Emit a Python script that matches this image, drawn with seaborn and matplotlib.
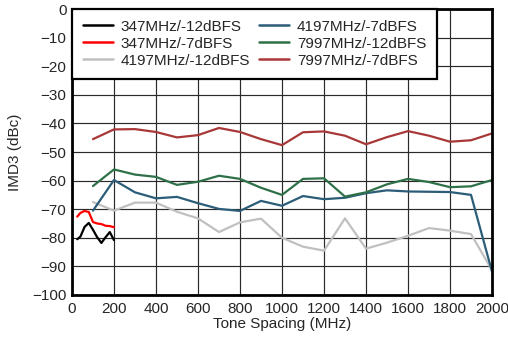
import numpy as np
import pandas as pd
import matplotlib
matplotlib.use("Agg")
import matplotlib.pyplot as plt
import seaborn as sns

# ---- data ----
x_low = [25, 40, 60, 80, 100, 120, 140, 160, 180, 200]
s347_12 = [-80.5, -79.6, -76.2, -74.8, -77.2, -79.8, -81.8, -79.8, -78.0, -80.8]
s347_7 = [-72.6, -71.3, -70.6, -71.0, -74.5, -75.0, -75.2, -75.8, -75.9, -76.3]

x_high = [100, 200, 300, 400, 500, 600, 700, 800, 900, 1000,
          1100, 1200, 1300, 1400, 1500, 1600, 1700, 1800, 1900, 2000]
s4197_12 = [-67.5, -70.5, -67.7, -67.7, -70.9, -73.2, -78.0, -74.6, -73.3, -80.0,
            -83.1, -84.5, -73.2, -83.8, -81.7, -79.3, -76.6, -77.5, -78.7, -91.3]
s4197_7 = [-70.5, -59.8, -64.1, -66.2, -65.7, -67.9, -69.9, -70.6, -67.1, -68.8,
           -65.4, -66.5, -66.0, -64.4, -63.4, -63.8, -63.9, -64.0, -65.0, -91.8]
s7997_12 = [-61.9, -56.1, -57.9, -58.7, -61.5, -60.4, -58.3, -59.4, -62.5, -65.0,
            -59.4, -59.2, -65.6, -64.1, -61.3, -59.4, -60.5, -62.3, -62.0, -59.8]
s7997_7 = [-45.5, -42.1, -42.0, -43.0, -44.9, -44.1, -41.6, -43.0, -45.5, -47.6,
           -43.1, -42.8, -44.3, -47.3, -44.8, -42.7, -44.3, -46.4, -45.9, -43.5]

labels = ["347MHz/-12dBFS", "347MHz/-7dBFS", "4197MHz/-12dBFS",
          "4197MHz/-7dBFS", "7997MHz/-12dBFS", "7997MHz/-7dBFS"]
colors = ["#000000", "#ff0000", "#c0c0c0", "#2b5c78", "#2e7048", "#a83838"]

xs = [x_low, x_low, x_high, x_high, x_high, x_high]
ys = [s347_12, s347_7, s4197_12, s4197_7, s7997_12, s7997_7]

rows = []
for lab, xx, yy in zip(labels, xs, ys):
    for a, b in zip(xx, yy):
        rows.append({"x": a, "y": b, "series": lab})
df = pd.DataFrame(rows)

sns.set_style("white")
plt.rcParams["font.family"] = ["Liberation Sans", "DejaVu Sans"]

fig = plt.figure(figsize=(5.08, 3.41), dpi=100)
ax = fig.add_axes([0.1417, 0.1349, 0.8268, 0.8387])

sns.lineplot(data=df, x="x", y="y", hue="series", hue_order=labels,
             palette=dict(zip(labels, colors)), linewidth=1.6,
             sort=False, estimator=None, ax=ax)

ax.set_xlim(0, 2000)
ax.set_ylim(-100, 0)
ax.set_xticks(np.arange(0, 2001, 200))
ax.set_yticks(np.arange(-100, 1, 10))
ax.tick_params(axis="both", labelsize=11, length=0)
ax.tick_params(axis="x", pad=5)
ax.tick_params(axis="y", pad=4)
ax.grid(True, color="#2a2a2a", linewidth=0.85)
ax.set_axisbelow(True)
for sp in ax.spines.values():
    sp.set_visible(True)
    sp.set_color("black")
    sp.set_linewidth(2)
ax.set_xlabel("Tone Spacing (MHz)", fontsize=11, labelpad=0.5)
ax.set_ylabel("IMD3 (dBc)", fontsize=11, labelpad=7)

h, l = ax.get_legend_handles_labels()
leg = ax.legend(h, l, ncol=2, loc="upper left", bbox_to_anchor=(0, 1), fontsize=11,
                frameon=True, fancybox=False, framealpha=1, edgecolor="black",
                borderpad=0.7, labelspacing=0.2, handlelength=2.0,
                handletextpad=0.5, columnspacing=0.55, borderaxespad=0)
leg.get_frame().set_linewidth(1.6)
for line in leg.get_lines():
    line.set_linewidth(1.8)

fig.savefig("out.png", dpi=100)
